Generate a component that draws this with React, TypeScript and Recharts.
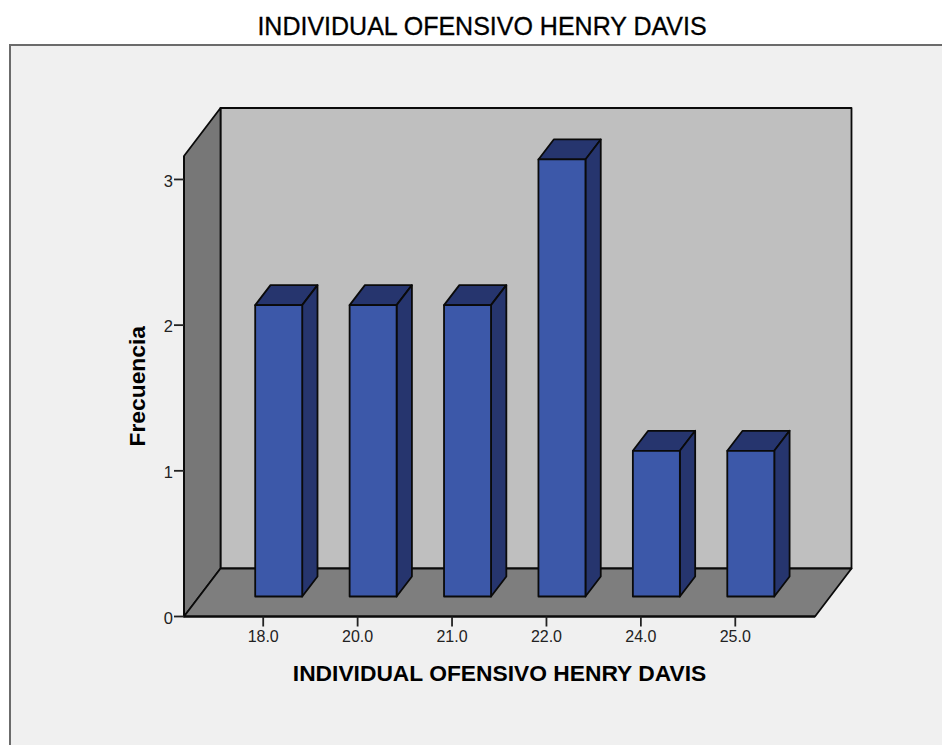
import React from 'react';
import { BarChart, Bar, XAxis, YAxis, usePlotArea } from 'recharts';

const categories = ['18.0', '20.0', '21.0', '22.0', '24.0', '25.0'];
const counts = [2, 2, 2, 3, 1, 1];
const yTicks = [0, 1, 2, 3];

const chartTitle = 'INDIVIDUAL OFENSIVO HENRY DAVIS';
const xTitle = 'INDIVIDUAL OFENSIVO HENRY DAVIS';
const yTitle = 'Frecuencia';

const data = categories.map((name, i) => ({ name, value: counts[i] }));

const FONT = '"Liberation Sans", Arial, sans-serif';
const LINE = '#0a0a0a';

// how far the back wall sits behind the front plane
const WALL_DX = 36.5;
const WALL_DY = 48;

// bars stand part way into the floor
const BAR_SHIFT_X = 15.2;
const BAR_SHIFT_Y = 20;
const BAR_DEPTH_X = 15.3;
const BAR_DEPTH_Y = 20;

function Walls() {
  const plot = usePlotArea();
  if (!plot) return null;
  const { x, y, width, height } = plot;
  const r = x + width;
  const b = y + height;
  return (
    <g stroke={LINE} strokeWidth={1.8} strokeLinejoin="round">
      <polygon
        points={`${x + WALL_DX},${y - WALL_DY} ${r + WALL_DX},${y - WALL_DY} ${r + WALL_DX},${b - WALL_DY} ${x + WALL_DX},${b - WALL_DY}`}
        fill="#bfbfbf"
      />
      <polygon
        points={`${x},${y} ${x + WALL_DX},${y - WALL_DY} ${x + WALL_DX},${b - WALL_DY} ${x},${b}`}
        fill="#777777"
      />
      <polygon
        points={`${x},${b} ${x + WALL_DX},${b - WALL_DY} ${r + WALL_DX},${b - WALL_DY} ${r},${b}`}
        fill="#7e7e7e"
      />
    </g>
  );
}

function Box3D(props: any) {
  const { x, y, width, height } = props;
  const l = x + BAR_SHIFT_X;
  const t = y - BAR_SHIFT_Y;
  const r = l + width;
  const b = t + height;
  const dx = BAR_DEPTH_X;
  const dy = BAR_DEPTH_Y;
  return (
    <g stroke={LINE} strokeWidth={1.8} strokeLinejoin="round">
      <polygon points={`${l},${t} ${l + dx},${t - dy} ${r + dx},${t - dy} ${r},${t}`} fill="#26356e" />
      <polygon points={`${r},${t} ${r + dx},${t - dy} ${r + dx},${b - dy} ${r},${b}`} fill="#26356e" />
      <rect x={l} y={t} width={width} height={height} fill="#3c58a9" />
    </g>
  );
}

export default function App() {
  return (
    <div style={{ position: 'absolute', left: 0, top: 0, width: 942, height: 745, overflow: 'hidden', background: '#fff' }}>
      <div
        style={{
          position: 'absolute',
          left: 9,
          top: 44,
          width: 933,
          height: 701,
          boxSizing: 'border-box',
          background: '#f0f0f0',
          borderLeft: '2px solid #6b6b6b',
          borderTop: '2px solid #6b6b6b',
        }}
      />
      <div
        style={{
          position: 'absolute',
          left: 0,
          top: 12,
          width: 964,
          textAlign: 'center',
          fontFamily: FONT,
          fontSize: 25,
          lineHeight: '28px',
          color: '#000',
          WebkitTextStroke: '0.3px #000',
        }}
      >
        {chartTitle}
      </div>
      <div style={{ position: 'absolute', left: 0, top: 0 }}>
        <BarChart
          width={942}
          height={745}
          data={data}
          margin={{ top: 156, right: 127, bottom: 58.5, left: 114 }}
          style={{ fontFamily: FONT }}
        >
          <Walls />
          <XAxis
            dataKey="name"
            height={70}
            padding={{ left: 32, right: 32.5 }}
            tickLine={{ stroke: '#222', strokeWidth: 1.8 }}
            tickSize={10}
            tickMargin={4}
            axisLine={{ stroke: LINE, strokeWidth: 1.8 }}
            tick={{ fill: '#222', fontSize: 16 }}
            label={{
              value: xTitle,
              position: 'insideBottom',
              offset: 6,
              fill: '#000',
              fontSize: 22.8,
              fontWeight: 'bold',
            }}
            interval={0}
          />
          <YAxis
            width={70}
            domain={[0, 3.161]}
            ticks={yTicks}
            tickLine={{ stroke: '#222', strokeWidth: 1.8 }}
            tickSize={10}
            tickMargin={1}
            axisLine={{ stroke: LINE, strokeWidth: 1.8 }}
            tick={{ fill: '#222', fontSize: 16.5, dy: 1.5 }}
            label={{
              value: yTitle,
              angle: -90,
              position: 'insideLeft',
              offset: 23,
              fill: '#000',
              fontSize: 22.8,
              fontWeight: 'bold',
              style: { textAnchor: 'middle' },
            }}
          />
          <Bar dataKey="value" barSize={47} shape={<Box3D />} isAnimationActive={false} />
        </BarChart>
      </div>
    </div>
  );
}
